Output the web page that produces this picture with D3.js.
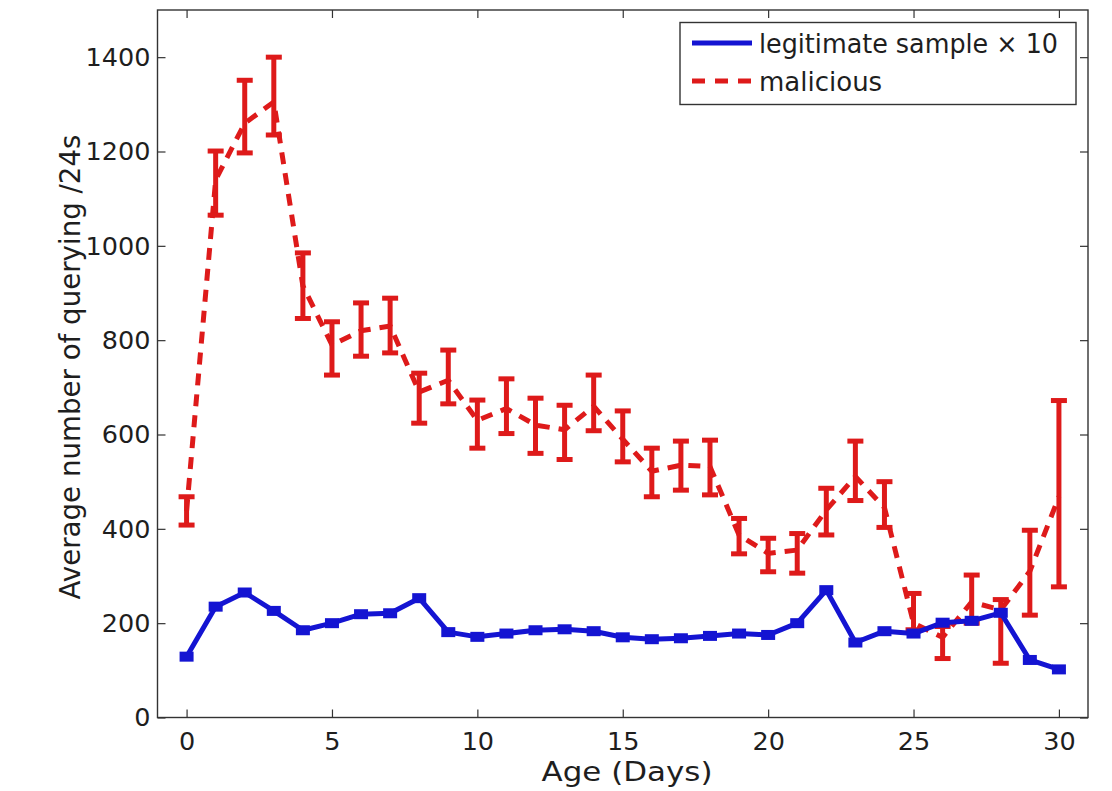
<!DOCTYPE html>
<html><head><meta charset="utf-8">
<script src="https://cdn.jsdelivr.net/npm/d3@7"></script>
<style>body{margin:0;background:#fff}svg{display:block}text{font-family:"DejaVu Sans",sans-serif;fill:#1e1e1e}</style>
</head><body><svg id="c" width="1112" height="791"></svg>
<script>
const days = d3.range(0, 31);
const legitValues = [129,235,265,226,185,200,219,221,253,181,171,178,185,187,183,170,166,168,173,178,175,200,270,159,183,178,201,205,222,122,102];
const maliciousMean = [438,1140,1260,1305,915,790,820,830,690,715,630,655,620,610,660,590,522,535,532,387,348,355,440,511,445,200,170,245,228,310,468];
const maliciousHi = [468,1201,1351,1400,985,839,879,889,730,779,673,718,677,662,726,650,571,586,588,422,380,390,486,586,500,263,193,302,250,397,672];
const maliciousLo = [408,1065,1197,1235,846,726,766,773,624,665,571,602,560,547,608,542,468,482,472,347,309,306,387,460,403,186,125,200,115,217,277];
const xTicks = [0,5,10,15,20,25,30];
const yTicks = [0,200,400,600,800,1000,1200,1400];
const legendLabels = ["legitimate sample \u00d7 10", "malicious"];

const svg = d3.select("#c");
const L=157.5, R=1088, T=10, B=717.5;
const x = d3.scaleLinear().domain([-1,31]).range([L,R]);
const y = d3.scaleLinear().domain([0,1500]).range([B,T]);
const blue = "#1414d2", red = "#de1a1a";
const FONT = "DejaVu Sans, sans-serif";

// axes box
svg.append("rect").attr("x",L).attr("y",T).attr("width",R-L).attr("height",B-T)
  .attr("fill","none").attr("stroke","#333").attr("stroke-width",1.4);

const tl = 8;
const styleAxis = g=>{g.select(".domain").remove();g.selectAll("line").attr("stroke","#333").attr("stroke-width",1.2);
  g.selectAll("text").attr("font-size",25.5).attr("fill","#1e1e1e").attr("font-family",FONT);};
svg.append("g").attr("transform",`translate(0,${B})`)
  .call(d3.axisBottom(x).tickValues(xTicks).tickSize(-tl).tickPadding(14).tickFormat(d3.format("d")))
  .call(styleAxis);
svg.append("g").attr("transform",`translate(0,${T})`)
  .call(d3.axisTop(x).tickValues(xTicks).tickSize(-tl).tickFormat(""))
  .call(styleAxis);
svg.append("g").attr("transform",`translate(${L},0)`)
  .call(d3.axisLeft(y).tickValues(yTicks).tickSize(-tl).tickPadding(7).tickFormat(d3.format("d")))
  .call(styleAxis);
svg.append("g").attr("transform",`translate(${R},0)`)
  .call(d3.axisRight(y).tickValues(yTicks).tickSize(-tl).tickFormat(""))
  .call(styleAxis);

// axis labels
svg.append("text").attr("x",627).attr("y",781).attr("text-anchor","middle")
  .attr("font-size",27).attr("textLength",171).attr("lengthAdjust","spacingAndGlyphs").text("Age (Days)");
svg.append("text").attr("transform",`translate(80,367) rotate(-90)`).attr("text-anchor","middle")
  .attr("font-size",28).attr("textLength",465).attr("lengthAdjust","spacingAndGlyphs").text("Average number of querying /24s");

// malicious dashed line
const line = d3.line().x((d,i)=>x(days[i])).y(d=>y(d));
svg.append("path").datum(maliciousMean).attr("d",line).attr("fill","none")
  .attr("stroke",red).attr("stroke-width",5).attr("stroke-dasharray","12,9");

// error bars
const eb = svg.append("g").attr("stroke",red).attr("stroke-width",5);
days.forEach((d,i)=>{
  eb.append("line").attr("x1",x(d)).attr("x2",x(d)).attr("y1",y(maliciousLo[i])).attr("y2",y(maliciousHi[i]));
  [maliciousLo[i],maliciousHi[i]].forEach(v=>{
    eb.append("line").attr("x1",x(d)-8).attr("x2",x(d)+8).attr("y1",y(v)).attr("y2",y(v));
  });
});

// legit blue line
svg.append("path").datum(legitValues).attr("d",line).attr("fill","none")
  .attr("stroke",blue).attr("stroke-width",5).attr("stroke-linejoin","round");
svg.append("g").selectAll("rect").data(legitValues).join("rect")
  .attr("x",(d,i)=>x(days[i])-7).attr("y",d=>y(d)-5).attr("width",14).attr("height",10).attr("fill",blue);

// legend
const lg = svg.append("g");
lg.append("rect").attr("x",680).attr("y",22.5).attr("width",396).attr("height",82)
  .attr("fill","#fff").attr("stroke","#333").attr("stroke-width",1.4);
lg.append("line").attr("x1",692).attr("x2",752).attr("y1",43).attr("y2",43).attr("stroke",blue).attr("stroke-width",5);
lg.append("line").attr("x1",692).attr("x2",752).attr("y1",81).attr("y2",81).attr("stroke",red).attr("stroke-width",5).attr("stroke-dasharray","13,10");
lg.append("text").attr("x",759).attr("y",53).attr("font-size",26).attr("textLength",299).attr("lengthAdjust","spacingAndGlyphs").text(legendLabels[0]);
lg.append("text").attr("x",759).attr("y",91).attr("font-size",26).text(legendLabels[1]);
</script></body></html>
